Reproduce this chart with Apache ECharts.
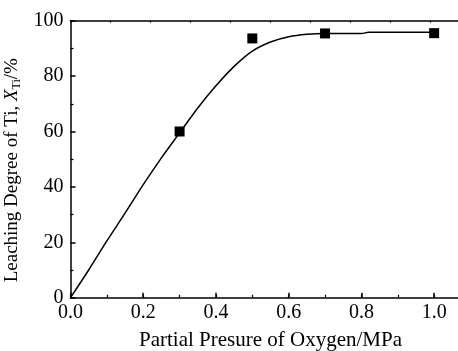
<!DOCTYPE html>
<html>
<head>
<meta charset="utf-8">
<script src="https://cdn.jsdelivr.net/npm/echarts@6/dist/echarts.min.js"></script>
<style>html,body{margin:0;padding:0;background:#fff;}#c{width:458px;height:351px;}</style>
</head>
<body>
<div id="c"></div>
<script>
// Measured points (square markers)
const pointX = [0.3, 0.5, 0.7, 1.0];
const pointY = [60.0, 93.6, 95.4, 95.5];
// Fitted curve
const curveX = [0, 0.05, 0.1, 0.15, 0.2, 0.25, 0.3, 0.35, 0.4, 0.45, 0.5, 0.55, 0.6, 0.65, 0.7, 0.8, 0.82, 1.0];
const curveY = [0, 10, 20.5, 30.5, 40.8, 50.5, 59.5, 68.5, 76.5, 83.5, 89, 92.3, 94.2, 95.1, 95.4, 95.4, 95.8, 95.8];
const xTickLabels = ['0.0', '0.2', '0.4', '0.6', '0.8', '1.0'];
const yTickLabels = ['0', '20', '40', '60', '80', '100'];

const FONT = 'Liberation Serif';
const chart = echarts.init(document.getElementById('c'), null, {renderer: 'canvas'});
chart.setOption({
  animation: false,
  backgroundColor: '#fff',
  grid: {left: 70.5, top: 20.7, width: 400, height: 277, containLabel: false, outerBoundsMode: 'none'},
  xAxis: [
    {
      type: 'value', position: 'bottom', min: 0, max: 1.1, interval: 0.2,
      name: 'Partial Presure of Oxygen/MPa', nameLocation: 'middle', nameGap: 32,
      nameTextStyle: {fontFamily: FONT, fontSize: 21, color: '#000'},
      axisLine: {show: true, onZero: false, lineStyle: {color: '#000', width: 1.5}},
      axisTick: {show: true, inside: true, length: 5, lineStyle: {color: '#000', width: 1.5}},
      axisLabel: {show: true, fontFamily: FONT, fontSize: 20, color: '#000', margin: 5, showMaxLabel: false,
        formatter: function (v) { const s = v.toFixed(1); return xTickLabels.indexOf(s) >= 0 ? s : ''; }},
      splitLine: {show: false}
    },
    {
      type: 'value', position: 'bottom', min: 0, max: 1.1, interval: 0.1,
      axisLine: {show: false},
      axisTick: {show: true, inside: true, length: 3, lineStyle: {color: '#000', width: 1.2}},
      axisLabel: {show: false}, splitLine: {show: false}
    },
    {
      type: 'value', position: 'top', min: 0, max: 10, interval: 1,
      axisLine: {show: true, onZero: false, lineStyle: {color: '#000', width: 1.5}},
      axisTick: {show: true, inside: true, length: 2, lineStyle: {color: '#000', width: 1}},
      axisLabel: {show: false}, splitLine: {show: false}
    }
  ],
  yAxis: [
    {
      type: 'value', position: 'left', min: 0, max: 100, interval: 20,
      name: 'Leaching Degree of Ti, {i|X}{sub|Ti}/%', nameLocation: 'middle', nameGap: 33,
      nameTextStyle: {fontFamily: FONT, fontSize: 19, color: '#000', padding: [0, 22, 0, 0],
        rich: {
          i: {fontFamily: FONT, fontSize: 19, fontStyle: 'italic', color: '#000'},
          sub: {fontFamily: FONT, fontSize: 12, color: '#000', verticalAlign: 'bottom', padding: [10, 0, 0, 0]}
        }},
      axisLine: {show: true, onZero: false, lineStyle: {color: '#000', width: 1.5}},
      axisTick: {show: true, inside: true, length: 5, lineStyle: {color: '#000', width: 1.5}},
      minorTick: {show: true, splitNumber: 2, length: 3, lineStyle: {color: '#000', width: 1.2}},
      axisLabel: {show: true, fontFamily: FONT, fontSize: 20, color: '#000', margin: 7,
        formatter: function (v) { const s = String(v); return yTickLabels.indexOf(s) >= 0 ? s : ''; }},
      splitLine: {show: false}
    }
  ],
  series: [
    {
      type: 'line', xAxisIndex: 0, yAxisIndex: 0, smooth: 0.3, showSymbol: false,
      lineStyle: {color: '#000', width: 1.5},
      data: curveX.map((x, i) => [x, curveY[i]])
    },
    {
      type: 'scatter', xAxisIndex: 0, yAxisIndex: 0, symbol: 'rect', symbolSize: 10,
      itemStyle: {color: '#000', opacity: 1},
      data: pointX.map((x, i) => [x, pointY[i]])
    }
  ]
});
</script>
</body>
</html>
